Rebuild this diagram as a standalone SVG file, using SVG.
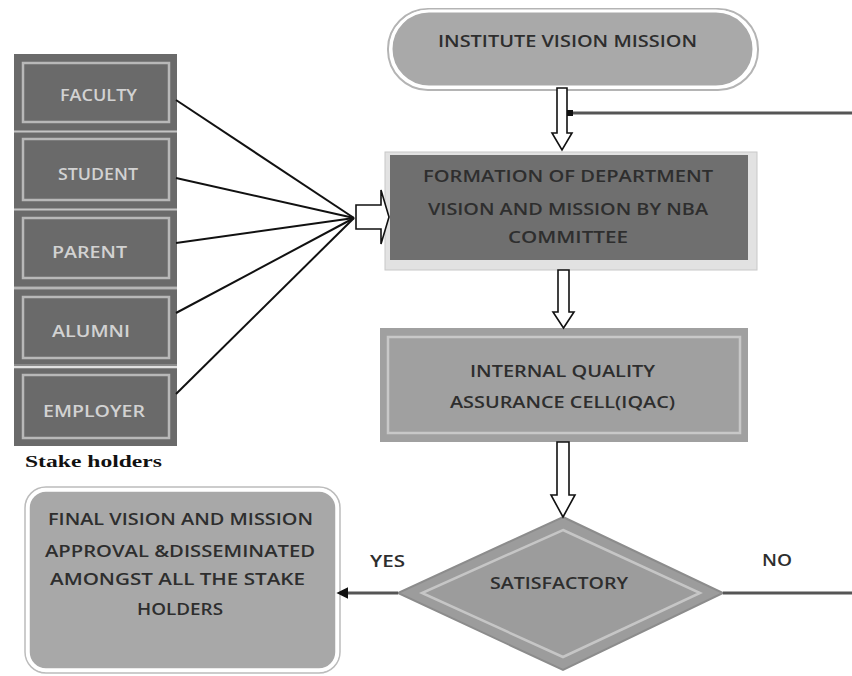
<svg xmlns="http://www.w3.org/2000/svg" width="852" height="676" viewBox="0 0 852 676">
<style>
.t{font-family:"Open Sans","Liberation Sans",sans-serif;font-weight:600;font-size:16px;fill:#2e2e2e;}
.s{font-family:"Open Sans","Liberation Sans",sans-serif;font-weight:600;font-size:16.5px;fill:#d2d2d2;}
.sbox{fill:#6a6a6a;}
.sin{fill:none;stroke:#b8b8b8;stroke-width:2.5;}
.blk{fill:#fff;stroke:#111;stroke-width:1.6;}
.fan{stroke:#111;stroke-width:2;fill:none;}
.ln{stroke:#555;stroke-width:3;fill:none;}
</style>
<defs>
<marker id="ah" viewBox="0 0 10 10" refX="2" refY="5" markerWidth="4" markerHeight="4" orient="auto-start-reverse">
<path d="M0,0 L10,5 L0,10 Z" fill="#111"/>
</marker>
</defs>
<rect width="852" height="676" fill="#fff"/>

<g id="stakeholders">
<rect x="14" y="54" width="163" height="392" fill="#8a8a8a"/>
<g id="faculty">
<rect class="sbox" x="14" y="54" width="163" height="76"/>
<rect class="sin" x="23" y="63" width="146" height="59"/>
<text class="s" x="60" y="101" textLength="77" lengthAdjust="spacingAndGlyphs">FACULTY</text>
</g>
<g id="student">
<rect class="sbox" x="14" y="133" width="163" height="75"/>
<rect class="sin" x="23" y="139" width="146" height="61"/>
<text class="s" x="58" y="180" textLength="80" lengthAdjust="spacingAndGlyphs">STUDENT</text>
</g>
<g id="parent">
<rect class="sbox" x="14" y="211" width="163" height="75"/>
<rect class="sin" x="23" y="218" width="146" height="60"/>
<text class="s" x="52" y="258" textLength="75" lengthAdjust="spacingAndGlyphs">PARENT</text>
</g>
<g id="alumni">
<rect class="sbox" x="14" y="290" width="163" height="74"/>
<rect class="sin" x="23" y="297" width="146" height="61"/>
<text class="s" x="52" y="337" textLength="78" lengthAdjust="spacingAndGlyphs">ALUMNI</text>
</g>
<g id="employer">
<rect class="sbox" x="14" y="369" width="163" height="77"/>
<rect class="sin" x="23" y="375" width="146" height="63"/>
<text class="s" x="43" y="417" textLength="102" lengthAdjust="spacingAndGlyphs">EMPLOYER</text>
</g>
<line x1="14" y1="131.5" x2="177" y2="131.5" stroke="#c4c4c4" stroke-width="1.5"/>
<line x1="14" y1="209.5" x2="177" y2="209.5" stroke="#c4c4c4" stroke-width="1.5"/>
<line x1="14" y1="288" x2="177" y2="288" stroke="#c4c4c4" stroke-width="1.5"/>
<line x1="14" y1="367" x2="177" y2="367" stroke="#e0e0e0" stroke-width="2"/>
<text x="25" y="467" font-family="Liberation Serif,serif" font-weight="bold" font-size="16.5" fill="#111" textLength="137" lengthAdjust="spacingAndGlyphs">Stake holders</text>
</g>

<g id="institute">
<rect x="388" y="9" width="370" height="81" rx="40" fill="none" stroke="#b4b4b4" stroke-width="2"/>
<rect x="391" y="11" width="363" height="76" rx="38" fill="#a9a9a9" stroke="#fff" stroke-width="3"/>
<text class="t" x="438" y="47" textLength="259" lengthAdjust="spacingAndGlyphs">INSTITUTE VISION MISSION</text>
</g>

<g id="formation">
<rect x="385" y="152" width="372" height="118" fill="#e2e2e2" stroke="#c8c8c8" stroke-width="1"/>
<rect x="390" y="155" width="358" height="105" fill="#6f6f6f"/>
<text class="t" x="423" y="182" font-size="17" textLength="290" lengthAdjust="spacingAndGlyphs" fill="#262626">FORMATION OF DEPARTMENT</text>
<text class="t" x="428" y="215" font-size="17" textLength="280" lengthAdjust="spacingAndGlyphs" fill="#262626">VISION AND MISSION BY NBA</text>
<text class="t" x="508" y="243" font-size="17" textLength="120" lengthAdjust="spacingAndGlyphs" fill="#262626">COMMITTEE</text>
</g>

<g id="iqac">
<rect x="380" y="328" width="368" height="114" fill="#a0a0a0"/>
<rect x="388" y="337" width="352" height="96" fill="none" stroke="#c8c8c8" stroke-width="2.5"/>
<text class="t" x="470" y="377" font-size="17" textLength="185" lengthAdjust="spacingAndGlyphs">INTERNAL QUALITY</text>
<text class="t" x="450" y="408" font-size="17" textLength="225" lengthAdjust="spacingAndGlyphs">ASSURANCE CELL(IQAC)</text>
</g>

<g id="satisfactory">
<polygon points="563,517 723,593 563,670 398,593" fill="#9c9c9c" stroke="#8c8c8c" stroke-width="2"/>
<polygon points="563,530 700,593 563,657 422,593" fill="none" stroke="#c6c6c6" stroke-width="2.5"/>
<text class="t" x="490" y="589" textLength="138" lengthAdjust="spacingAndGlyphs">SATISFACTORY</text>
</g>

<g id="final">
<rect x="25" y="487" width="315" height="186" rx="21" fill="none" stroke="#bcbcbc" stroke-width="1.5"/>
<rect x="28" y="490" width="309" height="180" rx="18" fill="#a8a8a8" stroke="#fff" stroke-width="3.5"/>
<text class="t" x="48" y="525" textLength="265" lengthAdjust="spacingAndGlyphs">FINAL VISION AND MISSION</text>
<text class="t" x="45" y="557" textLength="270" lengthAdjust="spacingAndGlyphs">APPROVAL &amp;DISSEMINATED</text>
<text class="t" x="50" y="585" textLength="255" lengthAdjust="spacingAndGlyphs">AMONGST ALL THE STAKE</text>
<text class="t" x="137" y="615" textLength="86" lengthAdjust="spacingAndGlyphs">HOLDERS</text>
</g>

<g id="connectors">
<line class="fan" x1="176" y1="100" x2="354" y2="218"/>
<line class="fan" x1="176" y1="178" x2="354" y2="218"/>
<line class="fan" x1="176" y1="243" x2="354" y2="218"/>
<line class="fan" x1="176" y1="313" x2="354" y2="218"/>
<line class="fan" x1="176" y1="394" x2="354" y2="218"/>
<path class="blk" d="M356,205 H381 V190 L389,217 L381,244 V229 H356 Z"/>
<path class="blk" d="M557,88 H567 V133 H572 L562,150 L552,133 H557 Z"/>
<line class="ln" x1="852" y1="113" x2="571" y2="113"/>
<rect x="567" y="110" width="6" height="6" fill="#111"/>
<path class="blk" d="M558,270 H569 V312 H574 L563.5,328 L553,312 H558 Z"/>
<path class="blk" d="M557,442 H569 V495 H575 L563,517 L551,495 H557 Z"/>
<line class="ln" x1="398" y1="593" x2="346" y2="593" marker-end="url(#ah)"/>
<line class="ln" x1="723" y1="593" x2="852" y2="593"/>
<text class="t" x="370" y="567" font-size="15" textLength="35" lengthAdjust="spacingAndGlyphs">YES</text>
<text class="t" x="762" y="566" font-size="15" textLength="30" lengthAdjust="spacingAndGlyphs">NO</text>
</g>
</svg>
